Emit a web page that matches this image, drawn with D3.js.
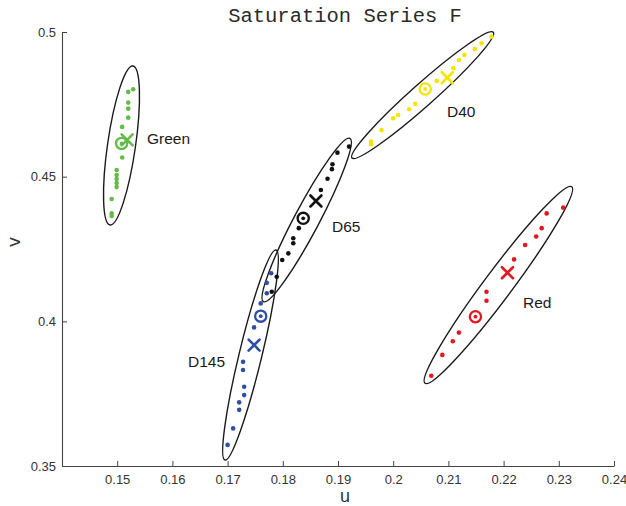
<!DOCTYPE html>
<html>
<head>
<meta charset="utf-8">
<script src="https://cdn.jsdelivr.net/npm/d3@7"></script>
<style>
  body { margin: 0; background: #fff; }
  svg text { font-family: "Liberation Sans", Arial, sans-serif; }
</style>
</head>
<body>
<div id="chart"></div>
<script>
// measured points, [u, v]
var greenDots = [[0.1529,0.4802],[0.1520,0.4793],[0.1520,0.4756],[0.1520,0.4735],[0.1520,0.4704],
  [0.1509,0.4672],[0.1509,0.4566],[0.1499,0.4523],[0.1499,0.4506],[0.1499,0.4492],[0.1499,0.4478],
  [0.1499,0.4464],[0.1490,0.4423],[0.1490,0.4373],[0.1490,0.4364]];
var yellowDots = [[0.2178,0.4984],[0.2160,0.4961],[0.2148,0.4941],[0.2129,0.4921],[0.2119,0.4903],
  [0.2109,0.4875],[0.2079,0.4831],[0.2040,0.4752],[0.2029,0.4733],[0.2009,0.4713],[0.2000,0.4702],
  [0.1979,0.4661],[0.1960,0.4621],[0.1960,0.4612]];
var blackDots = [[0.1920,0.4604],[0.1899,0.4583],[0.1890,0.4543],[0.1889,0.4526],[0.1881,0.4493],
  [0.1869,0.4454],[0.1829,0.4322],[0.1819,0.4287],[0.1819,0.4270],[0.1810,0.4235],[0.1799,0.4212],
  [0.1789,0.4154],[0.1780,0.4102]];
var blueDots = [[0.1779,0.4166],[0.1771,0.4133],[0.1771,0.4097],[0.1760,0.4062],[0.1748,0.3979],
  [0.1728,0.3860],[0.1728,0.3832],[0.1730,0.3774],[0.1730,0.3745],[0.1721,0.3720],[0.1721,0.3694],
  [0.1710,0.3630],[0.1700,0.3573]];
var redDots = [[0.2308,0.4393],[0.2278,0.4373],[0.2269,0.4322],[0.2259,0.4293],[0.2239,0.4264],
  [0.2219,0.4214],[0.2169,0.4102],[0.2169,0.4071],[0.2119,0.3961],[0.2108,0.3931],[0.2089,0.3884],
  [0.2069,0.3812]];

var names = ["Green","D40","D65","D145","Red"];
var colors = ["#63bc47","#f3e406","#111111","#2f4fa5","#e5161e"];
var dotSets = [greenDots, yellowDots, blackDots, blueDots, redDots];
// target (circled) point and cross point per series
var targets = [[0.1508,0.4615],[0.2058,0.4803],[0.1837,0.4356],[0.1760,0.4018],[0.2149,0.4016]];
var crosses = [[0.1518,0.4627],[0.2098,0.4842],[0.1860,0.4416],[0.1748,0.3918],[0.2207,0.4168]];
// ellipses: centre, tip of major axis, minor/major ratio
var ellCentre = [[0.15078,0.46077],[0.20533,0.47818],[0.18433,0.43502],[0.17415,0.38836],[0.21905,0.41256]];
var ellTip = [[0.15286,0.48825],[0.21813,0.49990],[0.19217,0.46326],[0.17877,0.42466],[0.23234,0.44653]];
var ellRatio = [0.174, 0.118, 0.135, 0.105, 0.114];
var labelPos = [[0.1554,0.4613],[0.20975,0.47062],[0.18891,0.43088],[0.16283,0.38422],[0.22351,0.40461]];

var xTicks = [0.15,0.16,0.17,0.18,0.19,0.2,0.21,0.22,0.23,0.24];
var yTicks = [0.35,0.4,0.45,0.5];

var width = 626, height = 506;

var svg = d3.select("#chart").append("svg")
  .attr("width", width)
  .attr("height", height);

var x = d3.scaleLinear().domain([0.14, 0.24]).range([62, 614]);
var y = d3.scaleLinear().domain([0.35, 0.5]).range([466, 32]);

var fmt = function(d){ return String(+d.toFixed(2)); };

var gx = svg.append("g")
  .attr("transform", "translate(0,466)")
  .call(d3.axisBottom(x).tickValues(xTicks).tickFormat(fmt).tickSizeInner(-5).tickSizeOuter(0).tickPadding(9));
var gy = svg.append("g")
  .attr("transform", "translate(62,0)")
  .call(d3.axisLeft(y).tickValues(yTicks).tickFormat(fmt).tickSizeInner(-5).tickSizeOuter(0).tickPadding(6));

[gx, gy].forEach(function(g){
  g.select(".domain").attr("stroke", "#444").attr("stroke-width", 1.1);
  g.selectAll(".tick line").attr("stroke", "#444");
  g.selectAll(".tick text").attr("fill", "#333").style("font-size", "13px")
    .style("font-family", "'Liberation Sans', Arial, sans-serif");
});

// ellipses
names.forEach(function(n, i){
  var cx = x(ellCentre[i][0]), cy = y(ellCentre[i][1]);
  var ax = x(ellTip[i][0]) - cx, ay = y(ellTip[i][1]) - cy;
  var a = Math.sqrt(ax*ax + ay*ay);
  var ang = Math.atan2(ay, ax) * 180 / Math.PI;
  svg.append("ellipse")
    .attr("cx", 0).attr("cy", 0)
    .attr("rx", a).attr("ry", a * ellRatio[i])
    .attr("transform", "translate(" + cx + "," + cy + ") rotate(" + ang + ")")
    .attr("fill", "none")
    .attr("stroke", "#1a1a1a")
    .attr("stroke-width", 1.4);
});

// dots
dotSets.forEach(function(set, i){
  svg.append("g").selectAll("circle")
    .data(set)
    .enter().append("circle")
    .attr("cx", function(d){ return x(d[0]); })
    .attr("cy", function(d){ return y(d[1]); })
    .attr("r", 2.3)
    .attr("fill", colors[i]);
});

// crosses
crosses.forEach(function(d, i){
  var px = x(d[0]), py = y(d[1]), s = 5.5;
  svg.append("path")
    .attr("d", "M" + (px-s) + "," + (py-s) + "L" + (px+s) + "," + (py+s) +
               "M" + (px-s) + "," + (py+s) + "L" + (px+s) + "," + (py-s))
    .attr("stroke", colors[i])
    .attr("stroke-width", 2.6)
    .attr("stroke-linecap", "round");
});

// targets
targets.forEach(function(d, i){
  svg.append("circle")
    .attr("cx", x(d[0])).attr("cy", y(d[1]))
    .attr("r", 5.6)
    .attr("fill", "none")
    .attr("stroke", colors[i])
    .attr("stroke-width", 2.3);
  svg.append("circle")
    .attr("cx", x(d[0])).attr("cy", y(d[1]))
    .attr("r", 1.9)
    .attr("fill", colors[i]);
});

// series labels
svg.append("g").selectAll("text")
  .data(names)
  .enter().append("text")
  .attr("x", function(d, i){ return x(labelPos[i][0]); })
  .attr("y", function(d, i){ return y(labelPos[i][1]); })
  .attr("fill", "#1a1a1a")
  .style("font-size", "15.5px")
  .text(function(d){ return d; });

// title and axis titles
svg.append("text")
  .attr("x", 345).attr("y", 22)
  .attr("text-anchor", "middle")
  .attr("fill", "#2a2a2a")
  .style("font-family", "'Liberation Mono', 'Courier New', monospace")
  .style("font-size", "20.5px")
  .text("Saturation Series F");

svg.append("text")
  .attr("x", 345).attr("y", 502)
  .attr("text-anchor", "middle")
  .attr("fill", "#333")
  .style("font-size", "18px")
  .text("u");

svg.append("text")
  .attr("transform", "translate(20,242) rotate(-90)")
  .attr("text-anchor", "middle")
  .attr("fill", "#333")
  .style("font-size", "19px")
  .text("v");
</script>
</body>
</html>
